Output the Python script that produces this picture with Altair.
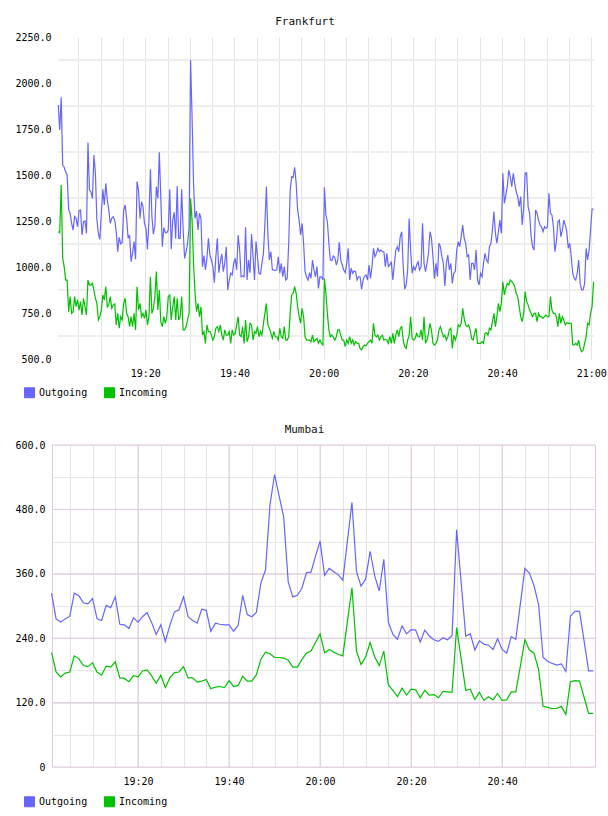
import altair as alt
import pandas as pd

MONO = "DejaVu Sans Mono"
SERIES = ["Outgoing", "Incoming"]
COLORS = ["#6666ff", "#00c000"]

# Frankfurt: one sample every 20 s, from 19:00:30 to 21:00:30
fra_out = [
    1880, 1745, 1922, 1554, 1542, 1518, 1500, 1313, 1292, 1237,
    1201, 1274, 1264, 1219, 1306, 1310, 1174, 1246, 1250, 1183,
    1676, 1418, 1409, 1373, 1609, 1509, 1255, 1183, 1150, 1292,
    1422, 1337, 1455, 1364, 1310, 1237, 1264, 1274, 1255, 1192,
    1083, 1161, 1125, 1132, 1310, 1337, 1264, 1156, 1174, 1029,
    1074, 1138, 1042, 1464, 1418, 1264, 1355, 1328, 1237, 1210,
    1096, 1255, 1531, 1274, 1178, 1223, 1437, 1373, 1623, 1373,
    1110, 1214, 1187, 1187, 1201, 1422, 1096, 1255, 1297, 1154,
    1440, 1156, 1156, 1422, 1201, 1047, 1083, 1129, 1219, 2125,
    1817, 1455, 1264, 1304, 1201, 1292, 1264, 1002, 1062, 984,
    1047, 1156, 1065, 1038, 1002, 915, 1056, 1156, 969, 1029,
    1071, 975, 1020, 1110, 875, 929, 966, 957, 1020, 1047,
    984, 1174, 1092, 947, 951, 947, 1216, 929, 1038, 969,
    1179, 1060, 929, 1138, 1056, 966, 962, 1020, 1074, 1237,
    1437, 1174, 1038, 1083, 984, 984, 980, 984, 1056, 966,
    1020, 947, 1002, 929, 938, 1129, 1418, 1491, 1487, 1542,
    1455, 1310, 1255, 1174, 1237, 1129, 975, 947, 929, 969,
    938, 1038, 984, 947, 1002, 884, 947, 947, 929, 1433,
    1283,
    1246, 1129, 1038, 1034, 1060, 1052, 1011, 1038, 1134, 1038,
    1011, 984, 969, 1020, 1101, 929, 993, 966, 978, 975,
    929, 947, 947, 879, 929, 951, 957, 929, 1011, 938,
    1002, 1101, 1056, 1074, 1101, 1083, 1092, 1083, 1083, 1002,
    1074, 1002, 1011, 1029, 929, 1011, 1092, 1110, 1083, 1165,
    1192, 1002, 879, 902, 984, 1264, 1092, 966, 1002, 984,
    1011, 1029, 984, 1002, 1237, 1020, 975, 1020, 1074, 1192,
    1156, 1056, 937, 1020, 947, 1129, 1110, 1056, 1020, 897,
    1020, 1065, 984, 1020, 911, 966, 975, 1092, 1138, 1110,
    1165, 1228, 1156, 1129, 1056, 1065, 929, 1020, 1020, 984,
    1092, 929, 902, 966, 947, 1020, 1074, 1038, 1024, 1110,
    1129, 1201, 1301, 1183, 1129, 1192, 1255, 1183, 1509, 1346,
    1391, 1437, 1527, 1491, 1437, 1509, 1455, 1409, 1382, 1328,
    1382, 1228, 1319, 1509, 1513, 1328, 1292, 1165, 1110, 1092,
    1310, 1292, 1255, 1228, 1219, 1192, 1219, 1210, 1219, 1400,
    1292, 1283, 1219, 1083, 1138, 1246, 1255, 1165, 1201, 1255,
    1228, 1192, 1101, 1129, 1056, 966, 938, 929, 966, 1038,
    911, 875, 875, 911, 1101, 1038, 1092, 1201, 1315, 1315,
]
fra_in = [
    1192, 1187, 1446, 1047, 1002, 929, 929, 757, 839, 748,
    757, 839, 784, 821, 766, 812, 739, 830, 784, 739,
    929, 902, 902, 911, 875, 830, 802, 712, 730, 766,
    848, 821, 893, 784, 793, 839, 775, 793, 799, 685,
    748, 667, 730, 712, 802, 830, 748, 730, 676, 730,
    676, 748, 658, 893, 766, 802, 730, 748, 721, 766,
    685, 730, 947, 748, 775, 839, 975, 766, 875, 703,
    676, 730, 694, 730, 839, 848, 712, 784, 839, 712,
    830, 712, 730, 839, 658, 658, 676, 712, 748, 1373,
    1255, 1020, 857, 757, 802, 730, 784, 630, 649, 585,
    685, 649, 649, 630, 603, 621, 667, 676, 649, 685,
    630, 603, 658, 630, 630, 649, 585, 658, 630, 639,
    685, 730, 630, 621, 676, 585, 712, 594, 621, 694,
    685, 603, 649, 639, 676, 621, 649, 630, 694, 748,
    802, 685, 667, 639, 612, 649, 621, 621, 603, 667,
    621, 612, 676, 603, 603, 621, 748, 848, 857, 893,
    857, 784, 730, 694, 775, 730, 621, 603, 603, 603,
    594, 630, 594, 603, 612, 585, 603, 585, 576, 938,
    857,
    748, 658, 621, 630, 618, 603, 621, 658, 658, 630,
    603, 603, 567, 603, 585, 621, 585, 603, 576, 594,
    585, 585, 558, 549, 567, 576, 571, 585, 594, 603,
    585, 694, 630, 621, 630, 603, 621, 630, 603, 607,
    603, 585, 621, 585, 639, 585, 630, 658, 621, 667,
    676, 603, 567, 558, 603, 630, 730, 612, 603, 612,
    639, 621, 621, 658, 603, 730, 585, 603, 639, 694,
    658, 585, 576, 585, 603, 658, 676, 649, 621, 630,
    603, 621, 658, 667, 558, 630, 603, 630, 685, 676,
    694, 775, 721, 685, 676, 685, 658, 612, 603, 639,
    667, 585, 585, 585, 594, 585, 639, 643, 630, 667,
    658, 703, 748, 676, 730, 802, 757, 802, 920, 848,
    884, 911, 902, 929, 920, 911, 893, 857, 839, 784,
    730, 703, 748, 866, 812, 793, 766, 748, 730, 748,
    748, 703, 748, 730, 730, 721, 730, 739, 730, 730,
    839, 766, 748, 748, 730, 676, 748, 694, 730, 712,
    685, 697, 694, 694, 694, 576, 576, 585, 576, 603,
    558, 540, 549, 585, 621, 694, 685, 748, 784, 920,
]

# Mumbai: one sample per minute, from 19:01 to 21:00
mum_out = [
    324, 276, 270, 276, 281, 324, 319, 306, 304, 314,
    276, 273, 301, 297, 317, 266, 265, 258, 278, 270,
    280, 288, 269, 247, 265, 234, 264, 289, 293, 317,
    280, 273, 268, 294, 292, 253, 268, 266, 265, 265,
    253, 264, 320, 284, 280, 288, 343, 367, 489, 545,
    505, 466, 345, 317, 320, 333, 362, 363, 393, 421,
    357, 370, 364, 358, 348, 421, 493, 364, 337, 350,
    402, 356, 328, 387, 270, 247, 238, 263, 248, 256,
    255, 233, 255, 244, 237, 234, 241, 237, 245, 442,
    343, 244, 248, 218, 235, 229, 227, 219, 239, 219,
    212, 243, 238, 304, 370, 361, 338, 303, 204, 197,
    193, 190, 192, 178, 281, 290, 290, 235, 179, 179,
]
mum_in = [
    213, 177, 168, 175, 177, 207, 202, 189, 187, 194,
    177, 171, 188, 186, 196, 166, 165, 159, 170, 168,
    179, 181, 170, 156, 171, 148, 166, 176, 177, 187,
    166, 166, 158, 160, 163, 146, 149, 150, 148, 161,
    150, 152, 169, 160, 160, 172, 201, 214, 211, 204,
    204, 203, 199, 186, 186, 200, 212, 216, 232, 248,
    213, 219, 214, 210, 207, 271, 334, 216, 191, 205,
    232, 205, 189, 216, 153, 143, 131, 147, 134, 145,
    144, 129, 143, 134, 135, 129, 141, 140, 139, 260,
    201, 143, 145, 126, 139, 124, 131, 125, 137, 124,
    125, 140, 140, 188, 237, 218, 212, 182, 113, 111,
    109, 109, 113, 98, 159, 161, 160, 130, 100, 100,
]

# Time is kept as minutes after 19:00; guides every 5 minutes, labels every 20
fra_x_ticks = list(range(5, 121, 5))
mum_x_ticks = list(range(5, 116, 5))
x_major = [20, 40, 60, 80, 100]
fra_x_domain = [0.45, 120.6]
mum_x_domain = [1.1, 120.4]
fra_y_labels = [500, 750, 1000, 1250, 1500, 1750, 2000, 2250]
fra_y_guides = [625, 875, 1125, 1375, 1625, 1875, 2125]
mum_y_ticks = [0, 60, 120, 180, 240, 300, 360, 420, 480, 540, 600]
mum_y_major = [0, 120, 240, 360, 480, 600]

TIME_LABEL = ("datum.value % 20 == 0 ? (19 + floor(datum.value / 60)) + ':' + "
              "(datum.value % 60 == 0 ? '00' : '' + (datum.value % 60)) : ''")


def frame(out_vals, in_vals, start_min, step_min):
    rows = []
    for name, vals in zip(SERIES, (out_vals, in_vals)):
        for i, v in enumerate(vals):
            rows.append({"minute": start_min + i * step_min, "value": v, "series": name})
    return pd.DataFrame(rows)


fra = frame(fra_out, fra_in, 0.5, 1 / 3)
mum = frame(mum_out, mum_in, 1.0, 1.0)

color_scale = alt.Scale(domain=SERIES, range=COLORS)


def x_enc(domain, ticks, scale_range):
    extra = {"range": scale_range} if scale_range else {}
    return alt.X(
        "minute:Q", scale=alt.Scale(domain=domain, nice=False, zero=False, **extra),
        axis=alt.Axis(
            title=None, values=ticks, labelExpr=TIME_LABEL, grid=True,
            gridColor="#e4e4e4", gridWidth=1, domain=False, ticks=False,
            labelFont=MONO, labelFontSize=10, labelColor="#000", labelPadding=9,
            labelFlush=False, labelOverlap=False,
        ),
    )


def y_enc(domain, ticks, label_expr, grid, pad):
    return alt.Y(
        "value:Q", scale=alt.Scale(domain=domain, nice=False, zero=False),
        axis=alt.Axis(
            title=None, values=ticks, labelExpr=label_expr, grid=grid,
            gridColor="#e6e6e6", gridWidth=1, domain=False, ticks=False,
            labelFont=MONO, labelFontSize=10, labelColor="#000", labelPadding=pad,
        ),
    )


def panel(df, title, width, x, y, guides, title_dx, leg_dx, leg_dy, border):
    keys = alt.Chart(df).transform_filter("false").mark_square(
        size=100, filled=True, opacity=1
    ).encode(
        x=x, y=y,
        color=alt.Color(
            "series:N", scale=color_scale,
            legend=alt.Legend(
                title=None, orient="none", legendX=leg_dx, legendY=leg_dy,
                direction="horizontal", symbolType="square", symbolSize=100,
                symbolStrokeColor="#9a9a9a", symbolStrokeWidth=1,
                labelFont=MONO, labelFontSize=10, labelColor="#000",
                labelOffset=4, columnPadding=14, padding=0,
            ),
        ),
    )
    lines = alt.Chart(df).mark_line(strokeWidth=1.2).encode(
        x=x, y=y, color=alt.Color("series:N", scale=color_scale, legend=None),
    )
    return alt.layer(*guides, keys, lines).properties(
        width=width, height=322,
        title=alt.TitleParams(
            text=title, font=MONO, fontSize=11, fontWeight="normal", color="#111",
            anchor="middle", dx=title_dx, offset=5,
        ),
        view=alt.ViewBackground(stroke=border, strokeWidth=1),
    )


# Frankfurt
fra_x = x_enc(fra_x_domain, fra_x_ticks, [6, 542])
fra_y = y_enc([500, 2250], fra_y_labels, "format(datum.value, '.1f')", False, 1)
fra_rows = alt.Chart(pd.DataFrame({
    "value": fra_y_guides,
    "minute": [fra_x_domain[0]] * len(fra_y_guides),
    "minute_end": [fra_x_domain[1]] * len(fra_y_guides),
})).mark_rule(color="#eeeeee", strokeWidth=2).encode(
    x=fra_x, x2="minute_end:Q", y=fra_y,
)
top = panel(fra, "Frankfurt", 542, fra_x, fra_y, [fra_rows], -18, -28, 350,
            "transparent")

# Mumbai
mum_x = x_enc(mum_x_domain, mum_x_ticks, None)
mum_y = y_enc(
    [0, 600], mum_y_ticks,
    "datum.value % 120 == 0 ? (datum.value == 0 ? '0' : format(datum.value, '.1f')) : ''",
    True, 7,
)
mum_rows = alt.Chart(pd.DataFrame({"value": mum_y_major})).mark_rule(
    color="#e2c8e2", strokeWidth=1
).encode(y=mum_y)
mum_cols = alt.Chart(pd.DataFrame({"minute": x_major})).mark_rule(
    color="#e2c8e2", strokeWidth=1
).encode(x=mum_x)
bottom = panel(mum, "Mumbai", 543, mum_x, mum_y, [mum_rows, mum_cols], -19, -28,
               351, "#e2c8e2")

# each panel keeps its own colour key
chart = alt.vconcat(top, bottom, spacing=22).resolve_scale(
    color="independent"
).resolve_legend(
    color="independent"
).properties(
    padding={"left": 14, "top": 15, "right": 0, "bottom": 30},
    background="white",
)

chart.save("out.html", embed_options={"renderer": "svg", "actions": False})
